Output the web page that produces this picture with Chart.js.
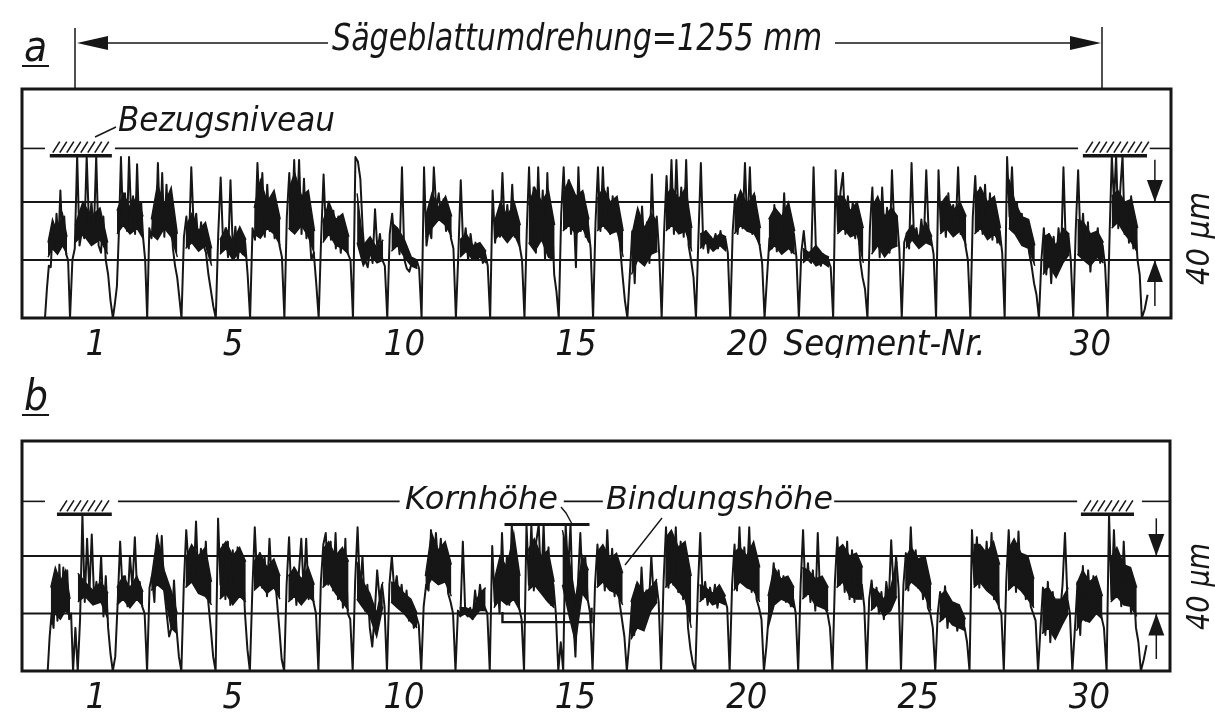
<!DOCTYPE html>
<html>
<head>
<meta charset="utf-8">
<script src="https://cdn.jsdelivr.net/npm/chart.js@4.4.1/dist/chart.umd.min.js"></script>
<style>
  html, body { margin: 0; padding: 0; background: #fff; }
  canvas { position: absolute; left: 0; }
  #chartA { top: 0; }
  #chartB { top: 370px; }
</style>
</head>
<body>
<canvas id="chartA" width="1215" height="370"></canvas>
<canvas id="chartB" width="1215" height="345"></canvas>
<script>
// levels in µm above the bottom of the frame
const LOWER = 40, UPPER = 80;

// x axis: segment numbers
const ticksA = [1, 5, 10, 15, 20, 24, 30];
const labelsA = ["1", "5", "10", "15", "20", "Segment-Nr.", "30"];
const ticksB = [1, 5, 10, 15, 20, 25, 30];
const labelsB = ["1", "5", "10", "15", "20", "25", "30"];

// segment edges (segment numbers), one more than rows of the profile
const edgesA = [-0.48, 0.25, 1.5, 2.5, 3.5, 4.5, 5.5, 6.5, 7.5, 8.5, 9.5, 10.5, 11.5, 12.5, 13.5, 14.5,
  15.5, 16.5, 17.5, 18.5, 19.5, 20.5, 21.5, 22.5, 23.5, 24.5, 25.5, 26.5, 27.5, 28.5, 29.5, 30.5, 31.5, 31.75];
const edgesB = [-0.4, 0.34, 1.5, 2.5, 3.5, 4.5, 5.5, 6.5, 7.5, 8.5, 9.5, 10.5, 11.5, 12.5, 13.5, 14.5,
  15.5, 16.5, 17.5, 18.5, 19.5, 20.5, 21.5, 22.5, 23.5, 24.5, 25.5, 26.5, 27.5, 28.5, 29.5, 30.5, 31.5, 31.75];

// trace a, read segment by segment (µm)
const profileA = [
  [0, 20, 36, 35, 62, 47, 72, 52, 88, 54, 70, 44, 40],
  [0, 40, 48, 112, 50, 60, 55, 112, 62, 80, 58, 112, 50, 45, 70, 40, 30, 12],
  [0, 10, 22, 60, 111, 66, 86, 60, 111, 72, 84, 58, 106, 62, 80, 55, 40],
  [0, 62, 55, 70, 58, 107, 60, 100, 56, 92, 62, 74, 48, 36, 28, 14],
  [0, 56, 70, 48, 104, 62, 72, 48, 66, 50, 45, 30, 19, 8],
  [0, 58, 97, 50, 62, 42, 95, 45, 63, 40, 58, 44, 52, 30],
  [0, 62, 54, 107, 70, 100, 56, 92, 60, 80, 55, 72, 50, 42],
  [0, 70, 100, 60, 109, 62, 109, 58, 96, 55, 66, 40, 45, 24],
  [0, 55, 99, 58, 80, 54, 74, 48, 70, 45, 62, 48, 44, 40],
  [0, 111, 108, 96, 60, 40, 35, 48, 38, 75, 46, 58, 40, 36],
  [0, 58, 72, 50, 62, 44, 104, 40, 34, 32, 38, 36, 40, 34],
  [0, 104, 50, 62, 55, 104, 75, 86, 68, 82, 60, 72, 55, 48],
  [0, 44, 95, 48, 62, 40, 58, 44, 52, 40, 50, 38, 44, 36],
  [0, 88, 52, 66, 56, 100, 60, 78, 58, 92, 56, 70, 50, 40],
  [0, 60, 104, 55, 90, 45, 104, 60, 88, 40, 100, 52, 70, 30, 18],
  [0, 72, 104, 62, 95, 58, 78, 35, 104, 60, 86, 56, 64, 48],
  [0, 66, 104, 60, 104, 62, 90, 58, 84, 60, 72, 50, 30, 12],
  [0, 30, 60, 24, 72, 40, 77, 45, 66, 38, 99, 50, 70, 44],
  [0, 60, 98, 62, 109, 58, 109, 64, 90, 56, 109, 50, 40, 28],
  [0, 55, 107, 48, 60, 45, 56, 52, 58, 48, 60, 50, 55, 45],
  [0, 60, 85, 58, 80, 62, 107, 60, 104, 58, 84, 55, 50, 38],
  [0, 28, 55, 48, 78, 46, 72, 50, 86, 48, 66, 45, 58, 42],
  [0, 45, 60, 42, 40, 38, 104, 45, 40, 36, 44, 38, 40, 35],
  [0, 102, 60, 87, 100, 58, 84, 62, 80, 55, 70, 40, 28, 20],
  [0, 62, 90, 48, 81, 42, 90, 55, 76, 45, 102, 60, 70, 48],
  [0, 52, 58, 48, 107, 55, 62, 50, 68, 52, 102, 58, 54, 44],
  [0, 102, 60, 80, 56, 86, 62, 78, 60, 104, 58, 72, 50, 40],
  [0, 70, 98, 60, 90, 58, 92, 56, 86, 54, 78, 52, 60, 45],
  [0, 111, 70, 104, 62, 80, 58, 72, 50, 60, 45, 36, 24, 16],
  [0, 40, 62, 30, 58, 24, 56, 36, 62, 40, 104, 48, 58, 40],
  [0, 60, 102, 50, 72, 40, 66, 32, 58, 44, 62, 38, 50, 36],
  [0, 60, 112, 80, 112, 62, 90, 112, 58, 76, 52, 84, 48, 62, 40, 30],
  [0, 6, 16]
];

// dense (blackened) part of trace a: lower / upper edge at five places per segment
const bandLoA = [
  [42, 48, 44, 50, 44], [52, 58, 50, 54, 44], [58, 64, 58, 62, 55], [58, 54, 62, 56, 42], [48, 52, 46, 50, 36],
  [44, 48, 40, 46, 42], [58, 55, 62, 58, 50], [62, 58, 64, 56, 44], [52, 58, 50, 48, 44], [52, 36, 44, 38, 40],
  [46, 50, 42, 36, 34], [56, 62, 68, 64, 56], [42, 46, 40, 42, 38], [54, 58, 52, 58, 48], [52, 46, 54, 42, 40],
  [60, 64, 58, 62, 52], [60, 64, 58, 60, 42], [30, 40, 36, 44, 46], [60, 64, 58, 60, 46], [48, 52, 46, 50, 46],
  [58, 64, 60, 58, 50], [46, 50, 44, 48, 44], [38, 42, 36, 38, 35], [58, 62, 56, 58, 38], [44, 50, 42, 48, 50],
  [48, 54, 48, 52, 50], [58, 62, 56, 60, 50], [58, 62, 54, 58, 50], [62, 58, 50, 48, 36], [30, 36, 28, 38, 44],
  [44, 40, 36, 42, 38], [62, 66, 58, 52, 45]
];
const bandHiA = [
  [52, 68, 58, 72, 56], [64, 80, 70, 76, 52], [74, 86, 76, 84, 70], [68, 92, 78, 90, 58], [62, 72, 60, 66, 48],
  [54, 62, 52, 63, 54], [76, 95, 80, 88, 68], [88, 100, 84, 88, 60], [66, 80, 68, 72, 56], [86, 50, 56, 48, 54],
  [66, 62, 54, 42, 40], [70, 86, 76, 84, 70], [54, 58, 50, 52, 46], [66, 80, 70, 80, 64], [78, 90, 80, 88, 64],
  [86, 95, 84, 88, 68], [82, 90, 80, 84, 60], [56, 76, 62, 72, 66], [84, 90, 82, 90, 62], [58, 60, 54, 58, 56],
  [76, 88, 78, 86, 62], [68, 76, 70, 80, 60], [48, 45, 50, 44, 42], [84, 84, 74, 80, 62], [76, 84, 70, 76, 70],
  [58, 64, 56, 66, 56], [78, 84, 74, 80, 70], [84, 90, 80, 84, 62], [96, 80, 70, 68, 50], [56, 58, 50, 62, 58],
  [68, 66, 58, 60, 52], [84, 88, 80, 82, 62]
];

// trace b
const profileB = [
  [0, 24, 40, 30, 66, 35, 74, 40, 72, 50, 70, 36, 40],
  [0, 30, 0, 36, 109, 48, 92, 55, 95, 50, 62, 48, 80, 38, 66, 30, 12],
  [0, 10, 48, 90, 55, 66, 45, 80, 58, 93, 52, 62, 45, 40],
  [0, 58, 66, 48, 94, 60, 94, 56, 40, 24, 30, 63, 30, 10],
  [0, 60, 98, 72, 80, 62, 104, 58, 85, 55, 90, 48, 30, 10],
  [0, 106, 60, 88, 50, 90, 46, 84, 55, 86, 60, 80, 40, 15],
  [0, 56, 100, 62, 82, 58, 80, 52, 92, 60, 70, 50, 30, 8],
  [0, 60, 93, 50, 72, 46, 68, 92, 55, 92, 50, 62, 48, 40],
  [0, 62, 88, 96, 60, 90, 56, 96, 50, 84, 44, 92, 40, 36],
  [0, 62, 100, 55, 80, 42, 60, 30, 17, 40, 70, 50, 60, 45],
  [0, 60, 80, 55, 66, 48, 60, 40, 56, 35, 45, 30, 38, 32],
  [0, 45, 60, 56, 98, 66, 96, 70, 92, 64, 80, 54, 48, 40],
  [0, 42, 38, 90, 40, 38, 44, 36, 56, 42, 60, 48, 44, 40],
  [0, 87, 48, 66, 40, 96, 52, 80, 46, 102, 54, 70, 44, 36],
  [0, 102, 60, 102, 56, 90, 102, 58, 102, 50, 86, 46, 60, 40],
  [0, 20, 0, 102, 70, 102, 40, 10, 60, 96, 55, 80, 50, 40],
  [0, 60, 88, 62, 80, 56, 98, 60, 85, 52, 75, 48, 36, 24],
  [0, 20, 45, 25, 60, 30, 72, 40, 56, 45, 80, 50, 62, 48],
  [0, 62, 100, 58, 96, 60, 100, 55, 90, 50, 72, 30, 15, 5],
  [0, 56, 96, 50, 62, 46, 58, 48, 60, 44, 56, 48, 50, 44],
  [0, 60, 88, 56, 100, 62, 86, 60, 100, 55, 78, 50, 44, 36],
  [0, 17, 40, 55, 75, 48, 70, 52, 66, 48, 62, 45, 50, 40],
  [0, 60, 98, 52, 75, 48, 70, 42, 96, 50, 62, 44, 40, 30],
  [0, 62, 93, 60, 87, 55, 90, 50, 84, 48, 76, 52, 60, 45],
  [0, 50, 63, 44, 58, 40, 55, 36, 62, 48, 91, 56, 80, 58],
  [0, 60, 82, 56, 100, 62, 84, 58, 78, 50, 66, 44, 40, 30],
  [0, 40, 55, 36, 59, 30, 50, 34, 44, 28, 40, 32, 30, 20],
  [0, 98, 60, 93, 58, 86, 62, 90, 55, 96, 50, 78, 44, 40],
  [0, 62, 98, 60, 88, 55, 97, 58, 80, 50, 70, 45, 40, 35],
  [0, 30, 58, 25, 62, 20, 55, 30, 48, 40, 60, 96, 50, 40],
  [0, 30, 62, 25, 73, 35, 70, 40, 66, 45, 55, 38, 30],
  [0, 109, 50, 98, 55, 75, 45, 90, 50, 70, 40, 62, 30, 20],
  [0, 8, 18]
];

const bandLoB = [
  [32, 40, 36, 42, 38], [48, 52, 46, 48, 36], [46, 50, 44, 50, 45], [56, 60, 56, 30, 26], [58, 62, 54, 52, 46],
  [50, 54, 46, 52, 48], [56, 60, 54, 58, 50], [48, 52, 46, 52, 48], [58, 62, 54, 48, 42], [50, 44, 38, 24, 45],
  [48, 44, 40, 34, 30], [56, 64, 60, 62, 52], [38, 40, 36, 42, 42], [44, 50, 46, 50, 42], [56, 60, 54, 48, 44],
  [60, 40, 20, 54, 48], [58, 62, 56, 54, 46], [22, 30, 28, 42, 48], [58, 62, 56, 50, 30], [48, 52, 46, 48, 46],
  [56, 62, 58, 56, 48], [30, 46, 50, 48, 44], [50, 54, 46, 44, 42], [58, 62, 52, 50, 50], [42, 46, 38, 42, 52],
  [56, 62, 58, 52, 42], [34, 38, 32, 30, 28], [58, 62, 56, 52, 44], [56, 60, 56, 50, 44], [26, 30, 22, 32, 40],
  [28, 36, 34, 40, 36], [48, 52, 46, 45, 38]
];
const bandHiB = [
  [58, 72, 62, 70, 50], [68, 62, 56, 62, 54], [58, 66, 58, 66, 55], [64, 94, 70, 56, 40], [78, 88, 80, 86, 62],
  [84, 90, 80, 86, 76], [76, 82, 72, 78, 66], [66, 72, 64, 72, 60], [84, 90, 80, 86, 76], [76, 62, 54, 40, 62],
  [62, 60, 54, 50, 40], [66, 96, 84, 90, 74], [44, 44, 42, 54, 58], [62, 80, 72, 96, 66], [84, 92, 80, 84, 62],
  [98, 80, 50, 80, 70], [82, 88, 78, 82, 68], [48, 62, 54, 58, 64], [92, 98, 86, 90, 66], [60, 58, 54, 60, 52],
  [82, 86, 80, 90, 72], [52, 72, 64, 66, 58], [72, 70, 64, 66, 58], [84, 88, 80, 82, 72], [58, 56, 50, 58, 76],
  [78, 86, 78, 80, 60], [52, 56, 48, 46, 36], [88, 88, 82, 90, 74], [84, 92, 82, 80, 64], [56, 58, 50, 50, 58],
  [60, 70, 62, 66, 52], [78, 86, 74, 72, 58]
];

const BAND_AT = [0.12, 0.3, 0.5, 0.7, 0.88];
const FONT = "'Liberation Sans Narrow', 'DejaVu Sans Condensed', 'DejaVu Sans', sans-serif";
const INK = "#161616";

function buildTrace(edges, rows) {
  const pts = [];
  rows.forEach((row, i) => {
    const s = edges[i], e = edges[i + 1];
    row.forEach((v, j) => pts.push({ x: s + (e - s) * j / row.length, y: v }));
  });
  return pts;
}

function buildBand(edges, rows) {
  const pts = [];
  rows.forEach((row, i) => {
    const s = edges[i], e = edges[i + 1];
    row.forEach((v, j) => pts.push({ x: s + (e - s) * BAND_AT[j], y: v }));
    pts.push({ x: e, y: null });
  });
  return pts;
}

function line(ctx, pts, w) {
  ctx.beginPath();
  ctx.moveTo(pts[0][0], pts[0][1]);
  for (let i = 1; i < pts.length; i++) ctx.lineTo(pts[i][0], pts[i][1]);
  ctx.lineWidth = w;
  ctx.stroke();
}

function tri(ctx, pts) {
  ctx.beginPath();
  ctx.moveTo(pts[0][0], pts[0][1]);
  ctx.lineTo(pts[1][0], pts[1][1]);
  ctx.lineTo(pts[2][0], pts[2][1]);
  ctx.closePath();
  ctx.fill();
}

function txt(ctx, s, x, y, size, width, angle) {
  ctx.save();
  ctx.font = "italic " + size + "px " + FONT;
  ctx.textBaseline = "alphabetic";
  ctx.translate(x, y);
  if (angle) ctx.rotate(angle);
  if (width) ctx.scale(width / ctx.measureText(s).width, 1);
  ctx.fillText(s, 0, 0);
  ctx.restore();
}

function hatch(ctx, x0, x1, y) {
  line(ctx, [[x0, y], [x1, y]], 3.5);
  for (let x = x0 + 3; x < x1 - 4; x += 7) line(ctx, [[x, y - 3], [x + 7, y - 14]], 1.6);
}

// frame, 40 µm band, reference level, hatches, arrows
function drawPanel(chart, spec) {
  const { ctx, chartArea: a, scales } = chart;
  const X = v => scales.x.getPixelForValue(v), Y = v => scales.y.getPixelForValue(v);
  ctx.save();
  ctx.strokeStyle = INK;
  ctx.fillStyle = INK;
  ctx.lineCap = "butt";
  ctx.lineWidth = 3;
  ctx.strokeRect(a.left, a.top, a.right - a.left, a.bottom - a.top);
  [LOWER, UPPER].forEach(v => line(ctx, [[a.left, Y(v)], [a.right, Y(v)]], 2));
  spec.refRuns.forEach(r => line(ctx, [[r[0] === null ? a.left : X(r[0]), Y(spec.ref)], [r[1] === null ? a.right : X(r[1]), Y(spec.ref)]], 1.6));
  spec.hatches.forEach(h => hatch(ctx, X(h[0]), X(h[1]), Y(spec.bar)));
  const ax = X(spec.arrowAt);
  line(ctx, [[ax, Y(spec.bar) + 4], [ax, Y(UPPER)]], 1.5);
  tri(ctx, [[ax - 8, Y(UPPER) - 22], [ax + 8, Y(UPPER) - 22], [ax, Y(UPPER)]]);
  line(ctx, [[ax, a.bottom - 12], [ax, Y(LOWER)]], 1.5);
  tri(ctx, [[ax - 8, Y(LOWER) + 22], [ax + 8, Y(LOWER) + 22], [ax, Y(LOWER)]]);
  txt(ctx, "40 µm", 1209, spec.unitY, 32, spec.unitW, -Math.PI / 2);
  txt(ctx, spec.letter, 24, spec.letterY, 42);
  line(ctx, [[22, spec.letterY + 5], [49, spec.letterY + 5]], 2);
  if (spec.extra) spec.extra(ctx, X, Y);
  ctx.restore();
}

const specA = {
  ref: 117, bar: 112, letter: "a", letterY: 61, unitY: 285, unitW: 93, arrowAt: 31.88,
  refRuns: [[null, -0.48], [1.56, 29.64], [31.73, null]],
  hatches: [[-0.34, 1.47], [29.78, 31.65]],
  extra(ctx, X, Y) {
    // rotation of the saw blade
    line(ctx, [[75, 28], [75, 89]], 1.5);
    line(ctx, [[1102, 27], [1102, 89]], 1.5);
    line(ctx, [[100, 43], [328, 43]], 1.6);
    line(ctx, [[835, 43], [1080, 43]], 1.6);
    tri(ctx, [[77, 43], [108, 36], [108, 50]]);
    tri(ctx, [[1101, 43], [1070, 36], [1070, 50]]);
    txt(ctx, "Sägeblattumdrehung=1255 mm", 332, 50, 38, 490);
    txt(ctx, "Bezugsniveau", 118, 131, 33, 217);
    line(ctx, [[95, 137], [116, 127]], 1.4);
  }
};

const specB = {
  ref: 118, bar: 109, letter: "b", letterY: 40, unitY: 260, unitW: 87, arrowAt: 31.95,
  refRuns: [[null, -0.48], [1.65, 9.87], [14.66, 15.8], [22.55, 29.64], [31.53, null]],
  hatches: [[-0.13, 1.47], [29.75, 31.3]],
  extra(ctx, X, Y) {
    txt(ctx, "Kornhöhe", 405, 139, 32, 153);
    txt(ctx, "Bindungshöhe", 606, 139, 32, 227);
    // grain height bracket
    line(ctx, [[X(12.93), Y(102)], [X(15.41), Y(102)]], 3);
    line(ctx, [[X(12.87), Y(41)], [X(12.87), Y(34)], [X(15.47), Y(34)], [X(15.47), Y(44)]], 2.4);
    line(ctx, [[561, 137], [566, 143], [572, 154]], 1.4);
    line(ctx, [[662, 148], [625, 195]], 1.4);
  }
};

function makeChart(id, edges, profile, lo, hi, ticks, labels, yMax, pad, spec) {
  return new Chart(document.getElementById(id), {
    type: "line",
    data: {
      datasets: [{
        label: "Profil",
        data: buildTrace(edges, profile),
        borderColor: INK,
        borderWidth: 2,
        borderJoinStyle: "round",
        pointRadius: 0,
        tension: 0,
        fill: false
      }, {
        label: "dicht oben",
        data: buildBand(edges, hi),
        borderColor: INK,
        borderWidth: 1.4,
        backgroundColor: INK,
        pointRadius: 0,
        tension: 0,
        spanGaps: false,
        fill: "+1"
      }, {
        label: "dicht unten",
        data: buildBand(edges, lo),
        borderColor: INK,
        borderWidth: 1.4,
        pointRadius: 0,
        tension: 0,
        spanGaps: false,
        fill: false
      }]
    },
    options: {
      responsive: false,
      animation: false,
      devicePixelRatio: 1,
      layout: { padding: pad },
      plugins: { legend: { display: false }, tooltip: { enabled: false } },
      scales: {
        x: {
          type: "linear", min: -1.15, max: 32.35,
          grid: { display: false, drawTicks: false },
          border: { display: false },
          afterBuildTicks: axis => { axis.ticks = ticks.map(v => ({ value: v })); },
          afterFit: axis => { axis.height = 40; },
          ticks: {
            autoSkip: false, maxRotation: 0, padding: 6, color: INK,
            font: { family: FONT, size: 36, style: "italic" },
            callback: (v, i) => labels[i]
          }
        },
        y: { display: false, min: 0, max: yMax }
      }
    },
    plugins: [{ id: "panel" + id, afterDatasetsDraw: chart => drawPanel(chart, spec) }]
  });
}

makeChart("chartA", edgesA, profileA, bandLoA, bandHiA, ticksA, labelsA, 158, { left: 22, right: 44, top: 89, bottom: 12 }, specA);
makeChart("chartB", edgesB, profileB, bandLoB, bandHiB, ticksB, labelsB, 160, { left: 22, right: 45, top: 71, bottom: 4 }, specB);
</script>
</body>
</html>
